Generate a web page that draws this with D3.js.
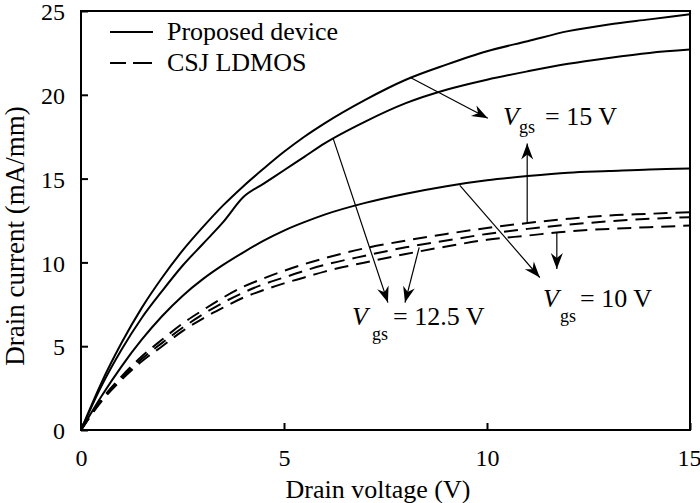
<!DOCTYPE html>
<html>
<head>
<meta charset="utf-8">
<script src="https://cdn.jsdelivr.net/npm/d3@7"></script>
<style>
  html, body { margin: 0; padding: 0; background: #fff; }
  svg { display: block; }
  text { font-family: "Liberation Serif", "Times New Roman", serif; fill: #000; }
</style>
</head>
<body>
<svg id="chart" width="700" height="503"></svg>
<script>
// ---- data ----
const voltage = [0, 0.5, 1, 1.5, 2, 2.5, 3, 3.5, 4, 4.5, 5, 5.5, 6, 7, 8, 9, 10, 11, 12, 13, 14, 15];
const proposed15  = [0, 2.8, 5.2, 7.3, 9.1, 10.7, 12.1, 13.4, 14.55, 15.6, 16.6, 17.5, 18.3, 19.7, 20.9, 21.8, 22.6, 23.2, 23.8, 24.2, 24.5, 24.8];
const proposed125 = [0, 2.6, 4.8, 6.7, 8.3, 9.8, 11.1, 12.4, 13.9, 14.7, 15.5, 16.3, 17.1, 18.4, 19.5, 20.3, 20.9, 21.4, 21.85, 22.2, 22.5, 22.7];
const proposed10  = [0, 2.0, 3.8, 5.4, 6.8, 8.0, 9.0, 9.85, 10.6, 11.3, 11.9, 12.4, 12.85, 13.55, 14.1, 14.55, 14.9, 15.15, 15.35, 15.45, 15.55, 15.6];
const csj15  = [0, 1.8, 3.2, 4.4, 5.4, 6.35, 7.15, 7.9, 8.55, 9.05, 9.5, 9.9, 10.25, 10.85, 11.3, 11.7, 12.05, 12.35, 12.6, 12.8, 12.9, 13.0];
const csj125 = [0, 1.75, 3.1, 4.25, 5.2, 6.1, 6.9, 7.6, 8.2, 8.7, 9.1, 9.5, 9.85, 10.4, 10.9, 11.3, 11.7, 12.0, 12.25, 12.45, 12.6, 12.7];
const csj10  = [0, 1.7, 3.0, 4.1, 5.0, 5.9, 6.65, 7.3, 7.9, 8.35, 8.75, 9.1, 9.45, 10.0, 10.5, 10.95, 11.35, 11.6, 11.85, 12.0, 12.1, 12.2];
const xTicks = [0, 5, 10, 15];
const yTicks = [0, 5, 10, 15, 20, 25];
const legendLabels = ["Proposed device", "CSJ LDMOS"];
const xTitle = "Drain voltage (V)";
const yTitle = "Drain current (mA/mm)";
// arrows: [x1, y1, x2, y2] in data units
const arrows = [
  [8.10, 21.05, 10.02, 18.6],
  [10.99, 12.4, 10.99, 17.1],
  [6.21, 17.4, 7.56, 7.6],
  [8.33, 10.9, 7.98, 7.6],
  [9.33, 14.6, 11.3, 9.1],
  [11.72, 11.75, 11.72, 9.6]
];
const vgsLabels = ["15 V", "12.5 V", "10 V"];

// ---- layout ----
const svg = d3.select("#chart");
const m = { left: 81, top: 11, right: 10, bottom: 73 };
const W = 700 - m.left - m.right, H = 503 - m.top - m.bottom;
const x = d3.scaleLinear().domain([0, 15]).range([m.left, m.left + W]);
const y = d3.scaleLinear().domain([0, 25]).range([m.top + H, m.top]);

svg.append("rect").attr("width", 700).attr("height", 503).attr("fill", "#fff");

// axes with inward ticks
const xAxis = svg.append("g").attr("transform", `translate(0,${m.top + H})`)
  .call(d3.axisBottom(x).tickValues(xTicks).tickSizeInner(-7).tickSizeOuter(0).tickPadding(19).tickFormat(d3.format("d")));
const yAxis = svg.append("g").attr("transform", `translate(${m.left},0)`)
  .call(d3.axisLeft(y).tickValues(yTicks).tickSizeInner(-7).tickSizeOuter(0).tickPadding(16).tickFormat(d3.format("d")));
[xAxis, yAxis].forEach(g => {
  g.attr("font-family", "Liberation Serif").attr("font-size", 24);
  g.select(".domain").remove();
  g.selectAll(".tick line").attr("stroke", "#000").attr("stroke-width", 2);
  g.selectAll(".tick text").style("font-size", "24px").style("font-family", "'Liberation Serif'").attr("fill", "#000");
});
yAxis.selectAll(".tick text").attr("dy", "0.36em");
xAxis.selectAll(".tick text").filter(d => d === 15).attr("dx", "-1");

// frame
svg.append("rect").attr("x", m.left).attr("y", m.top).attr("width", W).attr("height", H)
  .attr("fill", "none").attr("stroke", "#000").attr("stroke-width", 2);

// curves
const line = d3.line().x((d, i) => x(voltage[i])).y(d => y(d)).curve(d3.curveMonotoneX);
const solid = [proposed15, proposed125, proposed10];
const dashed = [csj15, csj125, csj10];
solid.forEach(s => svg.append("path").attr("d", line(s)).attr("fill", "none").attr("stroke", "#000").attr("stroke-width", 2));
dashed.forEach(s => svg.append("path").attr("d", line(s)).attr("fill", "none").attr("stroke", "#000").attr("stroke-width", 2).attr("stroke-dasharray", "14,8"));

// arrow marker
const defs = svg.append("defs");
defs.append("marker").attr("id", "ah").attr("markerUnits", "userSpaceOnUse")
  .attr("viewBox", "-17 -8 19 16").attr("refX", 0).attr("refY", 0)
  .attr("markerWidth", 19).attr("markerHeight", 16).attr("orient", "auto")
  .append("path").attr("d", "M0,0 L-16,-6 L-11,0 L-16,6 Z").attr("fill", "#000");
arrows.forEach(a => {
  svg.append("line").attr("x1", x(a[0])).attr("y1", y(a[1])).attr("x2", x(a[2])).attr("y2", y(a[3]))
    .attr("stroke", "#000").attr("stroke-width", 1.2).attr("marker-end", "url(#ah)");
});

// legend
const lg = svg.append("g");
lg.append("line").attr("x1", 110).attr("x2", 153).attr("y1", 32).attr("y2", 32).attr("stroke", "#000").attr("stroke-width", 2);
lg.append("line").attr("x1", 110).attr("x2", 126).attr("y1", 63).attr("y2", 63).attr("stroke", "#000").attr("stroke-width", 2);
lg.append("line").attr("x1", 133).attr("x2", 152).attr("y1", 63).attr("y2", 63).attr("stroke", "#000").attr("stroke-width", 2);
lg.append("text").attr("x", 167).attr("y", 40).style("font-size", "26px").text(legendLabels[0]);
lg.append("text").attr("x", 167).attr("y", 71).style("font-size", "26px").text(legendLabels[1]);

// Vgs labels: [V x, baseline, sub x, sub baseline, eq x]
const labelPos = [
  [503, 125, 519, 133, 545],
  [352, 325, 372, 340, 393],
  [543, 307, 560, 322, 580]
];
vgsLabels.forEach((t, i) => {
  const p = labelPos[i];
  const g = svg.append("g");
  g.append("text").attr("x", p[0]).attr("y", p[1]).style("font-size", "26px").style("font-style", "italic").text("V");
  g.append("text").attr("x", p[2]).attr("y", p[3]).style("font-size", "18px").text("gs");
  g.append("text").attr("x", p[4]).attr("y", p[1]).style("font-size", "26px").text("= " + t);
});

// axis titles
svg.append("text").attr("x", 378).attr("y", 498).attr("text-anchor", "middle").style("font-size", "26px").text(xTitle);
svg.append("text").attr("transform", "translate(24,236) rotate(-90)").attr("text-anchor", "middle").style("font-size", "27px").text(yTitle);
</script>
</body>
</html>
